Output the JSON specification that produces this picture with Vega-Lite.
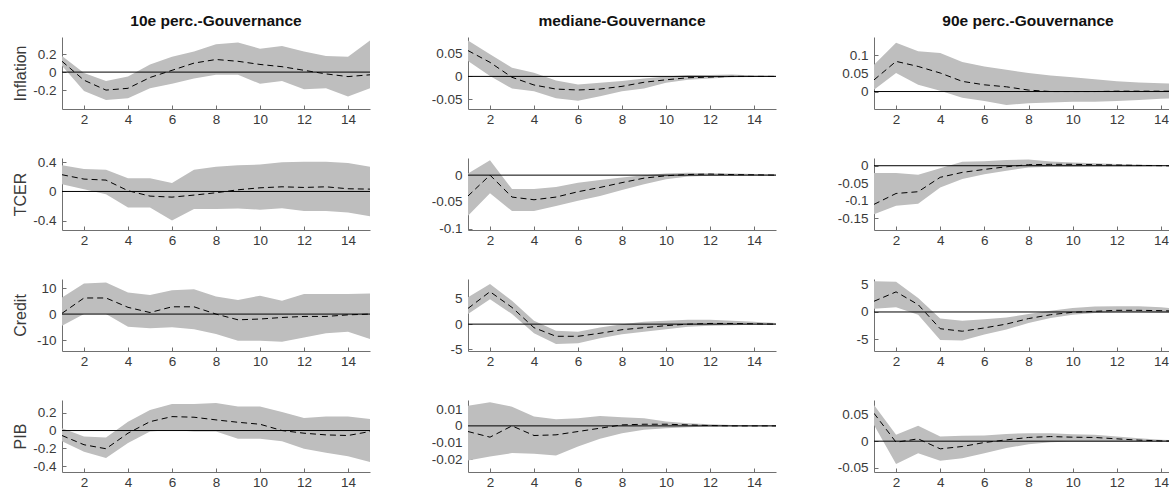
{
"$schema": "https://vega.github.io/schema/vega-lite/v6.json",
"padding": {"left": 12, "top": 13, "right": 0, "bottom": 0},
"background": "white",
"datasets": {"zero": [{"z": 0}], "irf": [
{"v":"Inflation","s":"p10","h":1,"md":0.12,"hi":0.18,"lo":0.07},
{"v":"Inflation","s":"p10","h":2,"md":-0.09,"hi":-0.01,"lo":-0.21},
{"v":"Inflation","s":"p10","h":3,"md":-0.2,"hi":-0.1,"lo":-0.31},
{"v":"Inflation","s":"p10","h":4,"md":-0.18,"hi":-0.05,"lo":-0.29},
{"v":"Inflation","s":"p10","h":5,"md":-0.06,"hi":0.085,"lo":-0.18},
{"v":"Inflation","s":"p10","h":6,"md":0.02,"hi":0.17,"lo":-0.13},
{"v":"Inflation","s":"p10","h":7,"md":0.1,"hi":0.23,"lo":-0.07},
{"v":"Inflation","s":"p10","h":8,"md":0.14,"hi":0.31,"lo":-0.03},
{"v":"Inflation","s":"p10","h":9,"md":0.12,"hi":0.33,"lo":-0.03},
{"v":"Inflation","s":"p10","h":10,"md":0.085,"hi":0.26,"lo":-0.13},
{"v":"Inflation","s":"p10","h":11,"md":0.06,"hi":0.29,"lo":-0.1},
{"v":"Inflation","s":"p10","h":12,"md":0.02,"hi":0.23,"lo":-0.19},
{"v":"Inflation","s":"p10","h":13,"md":-0.02,"hi":0.18,"lo":-0.18},
{"v":"Inflation","s":"p10","h":14,"md":-0.05,"hi":0.17,"lo":-0.27},
{"v":"Inflation","s":"p10","h":15,"md":-0.03,"hi":0.35,"lo":-0.18},
{"v":"Inflation","s":"med","h":1,"md":0.057,"hi":0.079,"lo":0.034},
{"v":"Inflation","s":"med","h":2,"md":0.031,"hi":0.049,"lo":0.001},
{"v":"Inflation","s":"med","h":3,"md":-0.002,"hi":0.019,"lo":-0.027},
{"v":"Inflation","s":"med","h":4,"md":-0.019,"hi":0.008,"lo":-0.033},
{"v":"Inflation","s":"med","h":5,"md":-0.028,"hi":-0.009,"lo":-0.048},
{"v":"Inflation","s":"med","h":6,"md":-0.03,"hi":-0.018,"lo":-0.054},
{"v":"Inflation","s":"med","h":7,"md":-0.028,"hi":-0.014,"lo":-0.044},
{"v":"Inflation","s":"med","h":8,"md":-0.022,"hi":-0.01,"lo":-0.033},
{"v":"Inflation","s":"med","h":9,"md":-0.013,"hi":-0.0045,"lo":-0.027},
{"v":"Inflation","s":"med","h":10,"md":-0.0075,"hi":0,"lo":-0.014},
{"v":"Inflation","s":"med","h":11,"md":-0.003,"hi":0.003,"lo":-0.0075},
{"v":"Inflation","s":"med","h":12,"md":-0.0015,"hi":0.003,"lo":-0.0045},
{"v":"Inflation","s":"med","h":13,"md":0,"hi":0.004,"lo":-0.002},
{"v":"Inflation","s":"med","h":14,"md":0,"hi":0.002,"lo":-0.0015},
{"v":"Inflation","s":"med","h":15,"md":0,"hi":0.0015,"lo":-0.001},
{"v":"Inflation","s":"p90","h":1,"md":0.032,"hi":0.074,"lo":0.005},
{"v":"Inflation","s":"p90","h":2,"md":0.083,"hi":0.134,"lo":0.051},
{"v":"Inflation","s":"p90","h":3,"md":0.069,"hi":0.111,"lo":0.0185},
{"v":"Inflation","s":"p90","h":4,"md":0.051,"hi":0.106,"lo":0.002},
{"v":"Inflation","s":"p90","h":5,"md":0.028,"hi":0.081,"lo":-0.017},
{"v":"Inflation","s":"p90","h":6,"md":0.0185,"hi":0.069,"lo":-0.026},
{"v":"Inflation","s":"p90","h":7,"md":0.013,"hi":0.06,"lo":-0.037},
{"v":"Inflation","s":"p90","h":8,"md":0.004,"hi":0.051,"lo":-0.032},
{"v":"Inflation","s":"p90","h":9,"md":0,"hi":0.044,"lo":-0.03},
{"v":"Inflation","s":"p90","h":10,"md":0,"hi":0.039,"lo":-0.028},
{"v":"Inflation","s":"p90","h":11,"md":0,"hi":0.034,"lo":-0.028},
{"v":"Inflation","s":"p90","h":12,"md":0.001,"hi":0.028,"lo":-0.026},
{"v":"Inflation","s":"p90","h":13,"md":0.001,"hi":0.025,"lo":-0.023},
{"v":"Inflation","s":"p90","h":14,"md":0.001,"hi":0.023,"lo":-0.02},
{"v":"Inflation","s":"p90","h":15,"md":0.001,"hi":0.021,"lo":-0.0185},
{"v":"TCER","s":"p10","h":1,"md":0.23,"hi":0.36,"lo":0.1},
{"v":"TCER","s":"p10","h":2,"md":0.17,"hi":0.31,"lo":0.03},
{"v":"TCER","s":"p10","h":3,"md":0.156,"hi":0.3,"lo":-0.037},
{"v":"TCER","s":"p10","h":4,"md":0.01,"hi":0.18,"lo":-0.22},
{"v":"TCER","s":"p10","h":5,"md":-0.064,"hi":0.18,"lo":-0.22},
{"v":"TCER","s":"p10","h":6,"md":-0.078,"hi":0.115,"lo":-0.4},
{"v":"TCER","s":"p10","h":7,"md":-0.05,"hi":0.3,"lo":-0.24},
{"v":"TCER","s":"p10","h":8,"md":-0.018,"hi":0.34,"lo":-0.24},
{"v":"TCER","s":"p10","h":9,"md":0.023,"hi":0.36,"lo":-0.235},
{"v":"TCER","s":"p10","h":10,"md":0.05,"hi":0.37,"lo":-0.25},
{"v":"TCER","s":"p10","h":11,"md":0.064,"hi":0.4,"lo":-0.23},
{"v":"TCER","s":"p10","h":12,"md":0.055,"hi":0.41,"lo":-0.27},
{"v":"TCER","s":"p10","h":13,"md":0.064,"hi":0.41,"lo":-0.27},
{"v":"TCER","s":"p10","h":14,"md":0.037,"hi":0.39,"lo":-0.29},
{"v":"TCER","s":"p10","h":15,"md":0.032,"hi":0.34,"lo":-0.34},
{"v":"TCER","s":"med","h":1,"md":-0.039,"hi":0.003,"lo":-0.076},
{"v":"TCER","s":"med","h":2,"md":0,"hi":0.028,"lo":-0.034},
{"v":"TCER","s":"med","h":3,"md":-0.041,"hi":-0.026,"lo":-0.067},
{"v":"TCER","s":"med","h":4,"md":-0.046,"hi":-0.026,"lo":-0.067},
{"v":"TCER","s":"med","h":5,"md":-0.041,"hi":-0.022,"lo":-0.0575},
{"v":"TCER","s":"med","h":6,"md":-0.031,"hi":-0.014,"lo":-0.048},
{"v":"TCER","s":"med","h":7,"md":-0.023,"hi":-0.009,"lo":-0.039},
{"v":"TCER","s":"med","h":8,"md":-0.014,"hi":-0.0044,"lo":-0.028},
{"v":"TCER","s":"med","h":9,"md":-0.0056,"hi":0,"lo":-0.017},
{"v":"TCER","s":"med","h":10,"md":-0.0012,"hi":0.003,"lo":-0.0075},
{"v":"TCER","s":"med","h":11,"md":0.0012,"hi":0.0044,"lo":-0.0025},
{"v":"TCER","s":"med","h":12,"md":0.002,"hi":0.0037,"lo":-0.0012},
{"v":"TCER","s":"med","h":13,"md":0.001,"hi":0.003,"lo":-0.0012},
{"v":"TCER","s":"med","h":14,"md":0.0006,"hi":0.002,"lo":-0.0006},
{"v":"TCER","s":"med","h":15,"md":0,"hi":0.001,"lo":-0.0006},
{"v":"TCER","s":"p90","h":1,"md":-0.11,"hi":-0.021,"lo":-0.138},
{"v":"TCER","s":"p90","h":2,"md":-0.079,"hi":-0.021,"lo":-0.114},
{"v":"TCER","s":"p90","h":3,"md":-0.074,"hi":-0.026,"lo":-0.108},
{"v":"TCER","s":"p90","h":4,"md":-0.033,"hi":-0.007,"lo":-0.062},
{"v":"TCER","s":"p90","h":5,"md":-0.019,"hi":0.011,"lo":-0.038},
{"v":"TCER","s":"p90","h":6,"md":-0.0105,"hi":0.013,"lo":-0.024},
{"v":"TCER","s":"p90","h":7,"md":-0.003,"hi":0.016,"lo":-0.014},
{"v":"TCER","s":"p90","h":8,"md":0.003,"hi":0.018,"lo":-0.005},
{"v":"TCER","s":"p90","h":9,"md":0.004,"hi":0.012,"lo":-0.003},
{"v":"TCER","s":"p90","h":10,"md":0.004,"hi":0.0095,"lo":-0.003},
{"v":"TCER","s":"p90","h":11,"md":0.003,"hi":0.0067,"lo":-0.002},
{"v":"TCER","s":"p90","h":12,"md":0.002,"hi":0.005,"lo":-0.002},
{"v":"TCER","s":"p90","h":13,"md":0.001,"hi":0.003,"lo":-0.002},
{"v":"TCER","s":"p90","h":14,"md":0,"hi":0.002,"lo":-0.001},
{"v":"TCER","s":"p90","h":15,"md":-0.001,"hi":0.001,"lo":-0.001},
{"v":"Credit","s":"p10","h":1,"md":0.3,"hi":6.4,"lo":-4.5},
{"v":"Credit","s":"p10","h":2,"md":6.2,"hi":11.8,"lo":0},
{"v":"Credit","s":"p10","h":3,"md":6.2,"hi":12.2,"lo":0},
{"v":"Credit","s":"p10","h":4,"md":2.6,"hi":8.3,"lo":-4.9},
{"v":"Credit","s":"p10","h":5,"md":0.6,"hi":7.3,"lo":-5.4},
{"v":"Credit","s":"p10","h":6,"md":2.8,"hi":9.2,"lo":-5.1},
{"v":"Credit","s":"p10","h":7,"md":2.8,"hi":9.6,"lo":-5.8},
{"v":"Credit","s":"p10","h":8,"md":0,"hi":6.8,"lo":-7.7},
{"v":"Credit","s":"p10","h":9,"md":-2.2,"hi":5.4,"lo":-10.3},
{"v":"Credit","s":"p10","h":10,"md":-1.9,"hi":7.1,"lo":-10.3},
{"v":"Credit","s":"p10","h":11,"md":-1.3,"hi":5.1,"lo":-10.6},
{"v":"Credit","s":"p10","h":12,"md":-0.9,"hi":7.7,"lo":-9},
{"v":"Credit","s":"p10","h":13,"md":-0.9,"hi":7.7,"lo":-7.4},
{"v":"Credit","s":"p10","h":14,"md":-0.3,"hi":7.7,"lo":-6.8},
{"v":"Credit","s":"p10","h":15,"md":0,"hi":7.9,"lo":-9.6},
{"v":"Credit","s":"med","h":1,"md":3.1,"hi":5.3,"lo":2},
{"v":"Credit","s":"med","h":2,"md":6.4,"hi":7.9,"lo":4.9},
{"v":"Credit","s":"med","h":3,"md":3.3,"hi":4.6,"lo":2},
{"v":"Credit","s":"med","h":4,"md":-0.7,"hi":0.66,"lo":-1.8},
{"v":"Credit","s":"med","h":5,"md":-2.4,"hi":-1.3,"lo":-3.9},
{"v":"Credit","s":"med","h":6,"md":-2.4,"hi":-1.5,"lo":-3.75},
{"v":"Credit","s":"med","h":7,"md":-1.8,"hi":-0.66,"lo":-2.8},
{"v":"Credit","s":"med","h":8,"md":-1.1,"hi":0,"lo":-2},
{"v":"Credit","s":"med","h":9,"md":-0.7,"hi":0.46,"lo":-1.5},
{"v":"Credit","s":"med","h":10,"md":-0.3,"hi":0.66,"lo":-1},
{"v":"Credit","s":"med","h":11,"md":0,"hi":0.85,"lo":-0.5},
{"v":"Credit","s":"med","h":12,"md":0.13,"hi":0.85,"lo":-0.33},
{"v":"Credit","s":"med","h":13,"md":0.13,"hi":0.66,"lo":-0.2},
{"v":"Credit","s":"med","h":14,"md":0.07,"hi":0.46,"lo":-0.13},
{"v":"Credit","s":"med","h":15,"md":0,"hi":0.2,"lo":-0.07},
{"v":"Credit","s":"p90","h":1,"md":1.95,"hi":5.6,"lo":0.6},
{"v":"Credit","s":"p90","h":2,"md":3.66,"hi":5.5,"lo":0.85},
{"v":"Credit","s":"p90","h":3,"md":1.34,"hi":2.56,"lo":-0.5},
{"v":"Credit","s":"p90","h":4,"md":-3.05,"hi":-1.2,"lo":-5.1},
{"v":"Credit","s":"p90","h":5,"md":-3.5,"hi":-1.6,"lo":-5.2},
{"v":"Credit","s":"p90","h":6,"md":-2.9,"hi":-1.34,"lo":-4.1},
{"v":"Credit","s":"p90","h":7,"md":-2.2,"hi":-1,"lo":-3.2},
{"v":"Credit","s":"p90","h":8,"md":-1.2,"hi":-0.37,"lo":-2},
{"v":"Credit","s":"p90","h":9,"md":-0.5,"hi":0.24,"lo":-1.1},
{"v":"Credit","s":"p90","h":10,"md":-0.06,"hi":0.73,"lo":-0.5},
{"v":"Credit","s":"p90","h":11,"md":0.12,"hi":0.98,"lo":-0.18},
{"v":"Credit","s":"p90","h":12,"md":0.3,"hi":1.04,"lo":-0.06},
{"v":"Credit","s":"p90","h":13,"md":0.3,"hi":1.04,"lo":-0.06},
{"v":"Credit","s":"p90","h":14,"md":0.24,"hi":0.85,"lo":-0.12},
{"v":"Credit","s":"p90","h":15,"md":0.12,"hi":0.55,"lo":-0.18},
{"v":"PIB","s":"p10","h":1,"md":-0.056,"hi":0.026,"lo":-0.12},
{"v":"PIB","s":"p10","h":2,"md":-0.16,"hi":-0.067,"lo":-0.24},
{"v":"PIB","s":"p10","h":3,"md":-0.205,"hi":-0.078,"lo":-0.31},
{"v":"PIB","s":"p10","h":4,"md":-0.03,"hi":0.1,"lo":-0.14},
{"v":"PIB","s":"p10","h":5,"md":0.1,"hi":0.23,"lo":-0.011},
{"v":"PIB","s":"p10","h":6,"md":0.157,"hi":0.3,"lo":0.007},
{"v":"PIB","s":"p10","h":7,"md":0.15,"hi":0.3,"lo":-0.011},
{"v":"PIB","s":"p10","h":8,"md":0.12,"hi":0.31,"lo":-0.011},
{"v":"PIB","s":"p10","h":9,"md":0.093,"hi":0.27,"lo":-0.093},
{"v":"PIB","s":"p10","h":10,"md":0.071,"hi":0.27,"lo":-0.093},
{"v":"PIB","s":"p10","h":11,"md":0,"hi":0.21,"lo":-0.12},
{"v":"PIB","s":"p10","h":12,"md":-0.03,"hi":0.14,"lo":-0.205},
{"v":"PIB","s":"p10","h":13,"md":-0.049,"hi":0.157,"lo":-0.25},
{"v":"PIB","s":"p10","h":14,"md":-0.056,"hi":0.157,"lo":-0.29},
{"v":"PIB","s":"p10","h":15,"md":-0.011,"hi":0.13,"lo":-0.355},
{"v":"PIB","s":"med","h":1,"md":-0.0034,"hi":0.0122,"lo":-0.0208},
{"v":"PIB","s":"med","h":2,"md":-0.0068,"hi":0.0142,"lo":-0.0184},
{"v":"PIB","s":"med","h":3,"md":0,"hi":0.0116,"lo":-0.0164},
{"v":"PIB","s":"med","h":4,"md":-0.0058,"hi":0.0056,"lo":-0.0168},
{"v":"PIB","s":"med","h":5,"md":-0.0054,"hi":0.004,"lo":-0.0178},
{"v":"PIB","s":"med","h":6,"md":-0.0034,"hi":0.0046,"lo":-0.0124},
{"v":"PIB","s":"med","h":7,"md":-0.0014,"hi":0.006,"lo":-0.0078},
{"v":"PIB","s":"med","h":8,"md":0.0006,"hi":0.0052,"lo":-0.0044},
{"v":"PIB","s":"med","h":9,"md":0.001,"hi":0.0046,"lo":-0.0024},
{"v":"PIB","s":"med","h":10,"md":0.001,"hi":0.0026,"lo":-0.0014},
{"v":"PIB","s":"med","h":11,"md":0.0006,"hi":0.0016,"lo":-0.0008},
{"v":"PIB","s":"med","h":12,"md":0.0002,"hi":0.001,"lo":-0.0004},
{"v":"PIB","s":"med","h":13,"md":0,"hi":0.0006,"lo":-0.0002},
{"v":"PIB","s":"med","h":14,"md":0,"hi":0.0004,"lo":-0.0002},
{"v":"PIB","s":"med","h":15,"md":0,"hi":0.0002,"lo":-0.0002},
{"v":"PIB","s":"p90","h":1,"md":0.0525,"hi":0.068,"lo":0.0306},
{"v":"PIB","s":"p90","h":2,"md":-0.002,"hi":0.012,"lo":-0.043},
{"v":"PIB","s":"p90","h":3,"md":0.0044,"hi":0.029,"lo":-0.0225},
{"v":"PIB","s":"p90","h":4,"md":-0.0144,"hi":0.0087,"lo":-0.037},
{"v":"PIB","s":"p90","h":5,"md":-0.01,"hi":0.01,"lo":-0.032},
{"v":"PIB","s":"p90","h":6,"md":-0.0025,"hi":0.0106,"lo":-0.0225},
{"v":"PIB","s":"p90","h":7,"md":0.0025,"hi":0.0137,"lo":-0.013},
{"v":"PIB","s":"p90","h":8,"md":0.007,"hi":0.015,"lo":-0.0056},
{"v":"PIB","s":"p90","h":9,"md":0.0087,"hi":0.015,"lo":-0.002},
{"v":"PIB","s":"p90","h":10,"md":0.0075,"hi":0.013,"lo":-0.0006},
{"v":"PIB","s":"p90","h":11,"md":0.007,"hi":0.012,"lo":-0.0006},
{"v":"PIB","s":"p90","h":12,"md":0.0044,"hi":0.0087,"lo":-0.0006},
{"v":"PIB","s":"p90","h":13,"md":0.002,"hi":0.0056,"lo":-0.0006},
{"v":"PIB","s":"p90","h":14,"md":0.0006,"hi":0.0025,"lo":-0.0006},
{"v":"PIB","s":"p90","h":15,"md":0,"hi":0.0012,"lo":-0.0006}
]},
"columns": 3,
"spacing": {"row": 49, "column": 98},
"bounds": "flush",
"concat": [
{"width": 308, "height": 72, "title": {"text": "10e perc.-Gouvernance"},
 "data": {"name": "irf"}, "transform": [{"filter": "datum.v == 'Inflation' && datum.s == 'p10'"}],
 "layer": [
  {"mark": {"type": "area", "color": "#bebebe", "clip": true},
   "encoding": {"x": {"field": "h", "type": "quantitative", "scale": {"domain": [1, 15], "nice": false, "zero": false}, "axis": {"values": [2,4,6,8,10,12,14], "title": null}},
    "y": {"field": "lo", "type": "quantitative", "scale": {"domain": [-0.41, 0.39], "nice": false, "zero": false}, "axis": {"values": [-0.2, 0, 0.2], "title": "Inflation", "titleX": -37, "titleY": 36, "titleAngle": 270, "titleBaseline": "alphabetic", "titleAlign": "center"}},
    "y2": {"field": "hi"}}},
  {"data": {"name": "zero"}, "mark": {"type": "rule", "color": "black", "strokeWidth": 1},
   "encoding": {"y": {"field": "z", "type": "quantitative", "axis": {"values": [-0.2, 0, 0.2], "title": "Inflation", "titleX": -37, "titleY": 36, "titleAngle": 270, "titleBaseline": "alphabetic", "titleAlign": "center"}}}},
  {"mark": {"type": "line", "color": "black", "strokeDash": [6, 4], "strokeWidth": 1, "clip": true},
   "encoding": {"x": {"field": "h", "type": "quantitative", "axis": {"values": [2,4,6,8,10,12,14], "title": null}}, "y": {"field": "md", "type": "quantitative", "axis": {"values": [-0.2, 0, 0.2], "title": "Inflation", "titleX": -37, "titleY": 36, "titleAngle": 270, "titleBaseline": "alphabetic", "titleAlign": "center"}}}}
 ]},
{"width": 308, "height": 72, "title": {"text": "mediane-Gouvernance"},
 "data": {"name": "irf"}, "transform": [{"filter": "datum.v == 'Inflation' && datum.s == 'med'"}],
 "layer": [
  {"mark": {"type": "area", "color": "#bebebe", "clip": true},
   "encoding": {"x": {"field": "h", "type": "quantitative", "scale": {"domain": [1, 15], "nice": false, "zero": false}, "axis": {"values": [2,4,6,8,10,12,14], "title": null}},
    "y": {"field": "lo", "type": "quantitative", "scale": {"domain": [-0.072, 0.087], "nice": false, "zero": false}, "axis": {"values": [-0.05, 0, 0.05], "title": null}},
    "y2": {"field": "hi"}}},
  {"data": {"name": "zero"}, "mark": {"type": "rule", "color": "black", "strokeWidth": 1},
   "encoding": {"y": {"field": "z", "type": "quantitative", "axis": {"values": [-0.05, 0, 0.05], "title": null}}}},
  {"mark": {"type": "line", "color": "black", "strokeDash": [6, 4], "strokeWidth": 1, "clip": true},
   "encoding": {"x": {"field": "h", "type": "quantitative", "axis": {"values": [2,4,6,8,10,12,14], "title": null}}, "y": {"field": "md", "type": "quantitative", "axis": {"values": [-0.05, 0, 0.05], "title": null}}}}
 ]},
{"width": 296, "height": 72, "title": {"text": "90e perc.-Gouvernance", "dx": 6},
 "data": {"name": "irf"}, "transform": [{"filter": "datum.v == 'Inflation' && datum.s == 'p90'"}],
 "layer": [
  {"mark": {"type": "area", "color": "#bebebe", "clip": true},
   "encoding": {"x": {"field": "h", "type": "quantitative", "scale": {"domain": [1, 14.41], "nice": false, "zero": false}, "axis": {"values": [2,4,6,8,10,12,14], "title": null}},
    "y": {"field": "lo", "type": "quantitative", "scale": {"domain": [-0.048, 0.15], "nice": false, "zero": false}, "axis": {"values": [0, 0.05, 0.1], "title": null}},
    "y2": {"field": "hi"}}},
  {"data": {"name": "zero"}, "mark": {"type": "rule", "color": "black", "strokeWidth": 1},
   "encoding": {"y": {"field": "z", "type": "quantitative", "axis": {"values": [0, 0.05, 0.1], "title": null}}}},
  {"mark": {"type": "line", "color": "black", "strokeDash": [6, 4], "strokeWidth": 1, "clip": true},
   "encoding": {"x": {"field": "h", "type": "quantitative", "axis": {"values": [2,4,6,8,10,12,14], "title": null}}, "y": {"field": "md", "type": "quantitative", "axis": {"values": [0, 0.05, 0.1], "title": null}}}}
 ]},
{"width": 308, "height": 72,
 "data": {"name": "irf"}, "transform": [{"filter": "datum.v == 'TCER' && datum.s == 'p10'"}],
 "layer": [
  {"mark": {"type": "area", "color": "#bebebe", "clip": true},
   "encoding": {"x": {"field": "h", "type": "quantitative", "scale": {"domain": [1, 15], "nice": false, "zero": false}, "axis": {"values": [2,4,6,8,10,12,14], "title": null}},
    "y": {"field": "lo", "type": "quantitative", "scale": {"domain": [-0.53, 0.46], "nice": false, "zero": false}, "axis": {"values": [-0.4, 0, 0.4], "title": "TCER", "titleX": -37, "titleY": 36, "titleAngle": 270, "titleBaseline": "alphabetic", "titleAlign": "center"}},
    "y2": {"field": "hi"}}},
  {"data": {"name": "zero"}, "mark": {"type": "rule", "color": "black", "strokeWidth": 1},
   "encoding": {"y": {"field": "z", "type": "quantitative", "axis": {"values": [-0.4, 0, 0.4], "title": "TCER", "titleX": -37, "titleY": 36, "titleAngle": 270, "titleBaseline": "alphabetic", "titleAlign": "center"}}}},
  {"mark": {"type": "line", "color": "black", "strokeDash": [6, 4], "strokeWidth": 1, "clip": true},
   "encoding": {"x": {"field": "h", "type": "quantitative", "axis": {"values": [2,4,6,8,10,12,14], "title": null}}, "y": {"field": "md", "type": "quantitative", "axis": {"values": [-0.4, 0, 0.4], "title": "TCER", "titleX": -37, "titleY": 36, "titleAngle": 270, "titleBaseline": "alphabetic", "titleAlign": "center"}}}}
 ]},
{"width": 308, "height": 72,
 "data": {"name": "irf"}, "transform": [{"filter": "datum.v == 'TCER' && datum.s == 'med'"}],
 "layer": [
  {"mark": {"type": "area", "color": "#bebebe", "clip": true},
   "encoding": {"x": {"field": "h", "type": "quantitative", "scale": {"domain": [1, 15], "nice": false, "zero": false}, "axis": {"values": [2,4,6,8,10,12,14], "title": null}},
    "y": {"field": "lo", "type": "quantitative", "scale": {"domain": [-0.1025, 0.032], "nice": false, "zero": false}, "axis": {"values": [-0.1, -0.05, 0], "title": null}},
    "y2": {"field": "hi"}}},
  {"data": {"name": "zero"}, "mark": {"type": "rule", "color": "black", "strokeWidth": 1},
   "encoding": {"y": {"field": "z", "type": "quantitative", "axis": {"values": [-0.1, -0.05, 0], "title": null}}}},
  {"mark": {"type": "line", "color": "black", "strokeDash": [6, 4], "strokeWidth": 1, "clip": true},
   "encoding": {"x": {"field": "h", "type": "quantitative", "axis": {"values": [2,4,6,8,10,12,14], "title": null}}, "y": {"field": "md", "type": "quantitative", "axis": {"values": [-0.1, -0.05, 0], "title": null}}}}
 ]},
{"width": 296, "height": 72,
 "data": {"name": "irf"}, "transform": [{"filter": "datum.v == 'TCER' && datum.s == 'p90'"}],
 "layer": [
  {"mark": {"type": "area", "color": "#bebebe", "clip": true},
   "encoding": {"x": {"field": "h", "type": "quantitative", "scale": {"domain": [1, 14.41], "nice": false, "zero": false}, "axis": {"values": [2,4,6,8,10,12,14], "title": null}},
    "y": {"field": "lo", "type": "quantitative", "scale": {"domain": [-0.183, 0.022], "nice": false, "zero": false}, "axis": {"values": [-0.15, -0.1, -0.05, 0], "title": null}},
    "y2": {"field": "hi"}}},
  {"data": {"name": "zero"}, "mark": {"type": "rule", "color": "black", "strokeWidth": 1},
   "encoding": {"y": {"field": "z", "type": "quantitative", "axis": {"values": [-0.15, -0.1, -0.05, 0], "title": null}}}},
  {"mark": {"type": "line", "color": "black", "strokeDash": [6, 4], "strokeWidth": 1, "clip": true},
   "encoding": {"x": {"field": "h", "type": "quantitative", "axis": {"values": [2,4,6,8,10,12,14], "title": null}}, "y": {"field": "md", "type": "quantitative", "axis": {"values": [-0.15, -0.1, -0.05, 0], "title": null}}}}
 ]},
{"width": 308, "height": 72,
 "data": {"name": "irf"}, "transform": [{"filter": "datum.v == 'Credit' && datum.s == 'p10'"}],
 "layer": [
  {"mark": {"type": "area", "color": "#bebebe", "clip": true},
   "encoding": {"x": {"field": "h", "type": "quantitative", "scale": {"domain": [1, 15], "nice": false, "zero": false}, "axis": {"values": [2,4,6,8,10,12,14], "title": null}},
    "y": {"field": "lo", "type": "quantitative", "scale": {"domain": [-14.2, 13.5], "nice": false, "zero": false}, "axis": {"values": [-10, 0, 10], "title": "Credit", "titleX": -37, "titleY": 36, "titleAngle": 270, "titleBaseline": "alphabetic", "titleAlign": "center"}},
    "y2": {"field": "hi"}}},
  {"data": {"name": "zero"}, "mark": {"type": "rule", "color": "black", "strokeWidth": 1},
   "encoding": {"y": {"field": "z", "type": "quantitative", "axis": {"values": [-10, 0, 10], "title": "Credit", "titleX": -37, "titleY": 36, "titleAngle": 270, "titleBaseline": "alphabetic", "titleAlign": "center"}}}},
  {"mark": {"type": "line", "color": "black", "strokeDash": [6, 4], "strokeWidth": 1, "clip": true},
   "encoding": {"x": {"field": "h", "type": "quantitative", "axis": {"values": [2,4,6,8,10,12,14], "title": null}}, "y": {"field": "md", "type": "quantitative", "axis": {"values": [-10, 0, 10], "title": "Credit", "titleX": -37, "titleY": 36, "titleAngle": 270, "titleBaseline": "alphabetic", "titleAlign": "center"}}}}
 ]},
{"width": 308, "height": 72,
 "data": {"name": "irf"}, "transform": [{"filter": "datum.v == 'Credit' && datum.s == 'med'"}],
 "layer": [
  {"mark": {"type": "area", "color": "#bebebe", "clip": true},
   "encoding": {"x": {"field": "h", "type": "quantitative", "scale": {"domain": [1, 15], "nice": false, "zero": false}, "axis": {"values": [2,4,6,8,10,12,14], "title": null}},
    "y": {"field": "lo", "type": "quantitative", "scale": {"domain": [-5.3, 8.9], "nice": false, "zero": false}, "axis": {"values": [-5, 0, 5], "title": null}},
    "y2": {"field": "hi"}}},
  {"data": {"name": "zero"}, "mark": {"type": "rule", "color": "black", "strokeWidth": 1},
   "encoding": {"y": {"field": "z", "type": "quantitative", "axis": {"values": [-5, 0, 5], "title": null}}}},
  {"mark": {"type": "line", "color": "black", "strokeDash": [6, 4], "strokeWidth": 1, "clip": true},
   "encoding": {"x": {"field": "h", "type": "quantitative", "axis": {"values": [2,4,6,8,10,12,14], "title": null}}, "y": {"field": "md", "type": "quantitative", "axis": {"values": [-5, 0, 5], "title": null}}}}
 ]},
{"width": 296, "height": 72,
 "data": {"name": "irf"}, "transform": [{"filter": "datum.v == 'Credit' && datum.s == 'p90'"}],
 "layer": [
  {"mark": {"type": "area", "color": "#bebebe", "clip": true},
   "encoding": {"x": {"field": "h", "type": "quantitative", "scale": {"domain": [1, 14.41], "nice": false, "zero": false}, "axis": {"values": [2,4,6,8,10,12,14], "title": null}},
    "y": {"field": "lo", "type": "quantitative", "scale": {"domain": [-7.1, 6.0], "nice": false, "zero": false}, "axis": {"values": [-5, 0, 5], "title": null}},
    "y2": {"field": "hi"}}},
  {"data": {"name": "zero"}, "mark": {"type": "rule", "color": "black", "strokeWidth": 1},
   "encoding": {"y": {"field": "z", "type": "quantitative", "axis": {"values": [-5, 0, 5], "title": null}}}},
  {"mark": {"type": "line", "color": "black", "strokeDash": [6, 4], "strokeWidth": 1, "clip": true},
   "encoding": {"x": {"field": "h", "type": "quantitative", "axis": {"values": [2,4,6,8,10,12,14], "title": null}}, "y": {"field": "md", "type": "quantitative", "axis": {"values": [-5, 0, 5], "title": null}}}}
 ]},
{"width": 308, "height": 72,
 "data": {"name": "irf"}, "transform": [{"filter": "datum.v == 'PIB' && datum.s == 'p10'"}],
 "layer": [
  {"mark": {"type": "area", "color": "#bebebe", "clip": true},
   "encoding": {"x": {"field": "h", "type": "quantitative", "scale": {"domain": [1, 15], "nice": false, "zero": false}, "axis": {"values": [2,4,6,8,10,12,14], "title": null}},
    "y": {"field": "lo", "type": "quantitative", "scale": {"domain": [-0.467, 0.344], "nice": false, "zero": false}, "axis": {"values": [-0.4, -0.2, 0, 0.2], "title": "PIB", "titleX": -37, "titleY": 36, "titleAngle": 270, "titleBaseline": "alphabetic", "titleAlign": "center"}},
    "y2": {"field": "hi"}}},
  {"data": {"name": "zero"}, "mark": {"type": "rule", "color": "black", "strokeWidth": 1},
   "encoding": {"y": {"field": "z", "type": "quantitative", "axis": {"values": [-0.4, -0.2, 0, 0.2], "title": "PIB", "titleX": -37, "titleY": 36, "titleAngle": 270, "titleBaseline": "alphabetic", "titleAlign": "center"}}}},
  {"mark": {"type": "line", "color": "black", "strokeDash": [6, 4], "strokeWidth": 1, "clip": true},
   "encoding": {"x": {"field": "h", "type": "quantitative", "axis": {"values": [2,4,6,8,10,12,14], "title": null}}, "y": {"field": "md", "type": "quantitative", "axis": {"values": [-0.4, -0.2, 0, 0.2], "title": "PIB", "titleX": -37, "titleY": 36, "titleAngle": 270, "titleBaseline": "alphabetic", "titleAlign": "center"}}}}
 ]},
{"width": 308, "height": 72,
 "data": {"name": "irf"}, "transform": [{"filter": "datum.v == 'PIB' && datum.s == 'med'"}],
 "layer": [
  {"mark": {"type": "area", "color": "#bebebe", "clip": true},
   "encoding": {"x": {"field": "h", "type": "quantitative", "scale": {"domain": [1, 15], "nice": false, "zero": false}, "axis": {"values": [2,4,6,8,10,12,14], "title": null}},
    "y": {"field": "lo", "type": "quantitative", "scale": {"domain": [-0.0278, 0.0156], "nice": false, "zero": false}, "axis": {"values": [-0.02, -0.01, 0, 0.01], "title": null}},
    "y2": {"field": "hi"}}},
  {"data": {"name": "zero"}, "mark": {"type": "rule", "color": "black", "strokeWidth": 1},
   "encoding": {"y": {"field": "z", "type": "quantitative", "axis": {"values": [-0.02, -0.01, 0, 0.01], "title": null}}}},
  {"mark": {"type": "line", "color": "black", "strokeDash": [6, 4], "strokeWidth": 1, "clip": true},
   "encoding": {"x": {"field": "h", "type": "quantitative", "axis": {"values": [2,4,6,8,10,12,14], "title": null}}, "y": {"field": "md", "type": "quantitative", "axis": {"values": [-0.02, -0.01, 0, 0.01], "title": null}}}}
 ]},
{"width": 296, "height": 72,
 "data": {"name": "irf"}, "transform": [{"filter": "datum.v == 'PIB' && datum.s == 'p90'"}],
 "layer": [
  {"mark": {"type": "area", "color": "#bebebe", "clip": true},
   "encoding": {"x": {"field": "h", "type": "quantitative", "scale": {"domain": [1, 14.41], "nice": false, "zero": false}, "axis": {"values": [2,4,6,8,10,12,14], "title": null}},
    "y": {"field": "lo", "type": "quantitative", "scale": {"domain": [-0.058, 0.0775], "nice": false, "zero": false}, "axis": {"values": [-0.05, 0, 0.05], "title": null}},
    "y2": {"field": "hi"}}},
  {"data": {"name": "zero"}, "mark": {"type": "rule", "color": "black", "strokeWidth": 1},
   "encoding": {"y": {"field": "z", "type": "quantitative", "axis": {"values": [-0.05, 0, 0.05], "title": null}}}},
  {"mark": {"type": "line", "color": "black", "strokeDash": [6, 4], "strokeWidth": 1, "clip": true},
   "encoding": {"x": {"field": "h", "type": "quantitative", "axis": {"values": [2,4,6,8,10,12,14], "title": null}}, "y": {"field": "md", "type": "quantitative", "axis": {"values": [-0.05, 0, 0.05], "title": null}}}}
 ]}
],
"config": {
 "view": {"stroke": null},
 "font": "Liberation Sans",
 "title": {"font": "Liberation Sans", "fontSize": 15.5, "fontWeight": "bold", "color": "#111", "anchor": "middle", "frame": "group", "baseline": "alphabetic", "offset": 8},
 "axis": {"grid": false, "labelOverlap": false, "labelFont": "Liberation Sans", "labelFontSize": 13.5, "labelColor": "#3a3a3a", "domainColor": "#707070", "tickColor": "#707070", "tickSize": -4, "labelPadding": 10, "labelExpr": "'' + datum.value", "titleFont": "Liberation Sans", "titleFontSize": 16, "titleFontWeight": "normal", "titleColor": "#3a3a3a"},
 "axisX": {"labelPadding": 7}
}
}
